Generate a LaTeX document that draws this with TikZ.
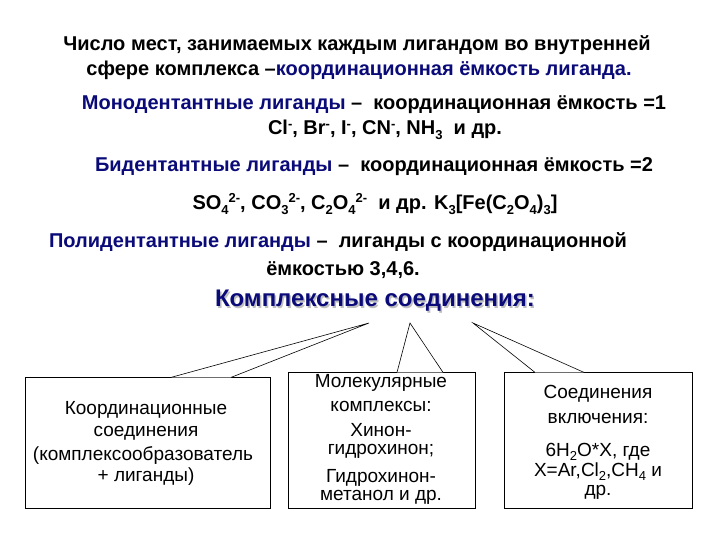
\documentclass[tikz,border=0pt]{standalone}
\usepackage{fontspec}
\setmainfont{Liberation Sans}
\newcommand{\mysup}[1]{\raisebox{0.6ex}{\fontsize{13}{13}\selectfont #1}}
\newcommand{\mysub}[1]{\raisebox{-0.45ex}{\fontsize{13}{13}\selectfont #1}}
\newcommand{\bsub}[1]{\raisebox{-0.4ex}{\fontsize{13}{13}\selectfont #1}}
\begin{document}
\begin{tikzpicture}[x=1pt,y=-1pt,
  line/.style={font=\bfseries\fontsize{20}{22}\selectfont,anchor=center,inner sep=0},
  bx/.style={draw=black,line width=0.8pt,fill=white},
  bt/.style={font=\fontsize{19}{21}\selectfont,anchor=center,inner sep=0},
  ptr/.style={draw=black,line width=0.6pt,fill=white}]
\definecolor{dblue}{RGB}{10,10,120}
\useasboundingbox (0,0) rectangle (720,540);
\fill[white] (0,0) rectangle (720,540);
\node[line] (l1) at (357,45) {Число мест, занимаемых каждым лигандом во внутренней};
\node[line] (l2) at (359,70) {сфере комплекса –\textcolor{dblue}{координационная ёмкость лиганда.}};
\node[line] (l3) at (374,105) {\textcolor{dblue}{Монодентантные лиганды} –\ \ координационная ёмкость =1};
\node[line] (l4) at (385,130) {Cl\mysup{-}, Br\mysup{-}, I\mysup{-}, CN\mysup{-}, NH\mysub{3}\ \ и др.};
\node[line] (l5) at (374,167) {\textcolor{dblue}{Бидентантные лиганды} –\ \ координационная ёмкость =2};
\node[line] (l6) at (375,204) {SO\mysub{4}\mysup{2-}, CO\mysub{3}\mysup{2-}, C\mysub{2}O\mysub{4}\mysup{2-}\ \ и др. K\mysub{3}[Fe(C\mysub{2}O\mysub{4})\mysub{3}]};
\node[line] (l7) at (338,242) {\textcolor{dblue}{Полидентантные лиганды} –\ \ лиганды с координационной};
\node[line] (l8) at (343,270) {ёмкостью 3,4,6.};
\node[line,font=\bfseries\fontsize{24}{26}\selectfont,text=gray!50] (hs) at (376.5,302.5) {Комплексные соединения:};
\node[line,font=\bfseries\fontsize{24}{26}\selectfont,text=dblue] (h) at (375,301) {Комплексные соединения:};
% boxes
\draw[bx] (25,377) rectangle (270,508);
\draw[bx] (288,372) rectangle (475,508);
\draw[bx] (504,372) rectangle (692,508);
\coordinate (t1) at (369,323);
\coordinate (t2) at (410,323);
\coordinate (t3) at (473,323);
\fill[white] (171,377) -- (t1) -- (231,377) -- cycle;
\draw[ptr] (171,377.4) -- (t1) -- (231,377.4);
\fill[white] (397,372) -- (t2) -- (443,372) -- cycle;
\draw[ptr] (397,372.4) -- (t2) -- (443,372.4);
\fill[white] (535,372) -- (t3) -- (584,372) -- cycle;
\draw[ptr] (535,372.4) -- (t3) -- (584,372.4);
% box texts
\node[bt] (a1) at (146,410) {Координационные};
\node[bt] (a2) at (146,433) {соединения};
\node[bt] (a3) at (143,456) {(комплексообразователь};
\node[bt] (a4) at (146,477) {+ лиганды)};
\node[bt] (b1) at (381,383) {Молекулярные};
\node[bt] (b2) at (381,406) {комплексы:};
\node[bt] (b3) at (381,430) {Хинон-};
\node[bt] (b4) at (381,451) {гидрохинон;};
\node[bt] (b5) at (381,478) {Гидрохинон-};
\node[bt] (b6) at (381,497) {метанол и др.};
\node[bt] (c1) at (598,394) {Соединения};
\node[bt] (c2) at (598,418) {включения:};
\node[bt] (c3) at (598,452) {6H\bsub{2}O*X, где};
\node[bt] (c4) at (598,472) {X=Ar,Cl\bsub{2},CH\bsub{4} и};
\node[bt] (c5) at (598,492) {др.};
\end{tikzpicture}
\end{document}
